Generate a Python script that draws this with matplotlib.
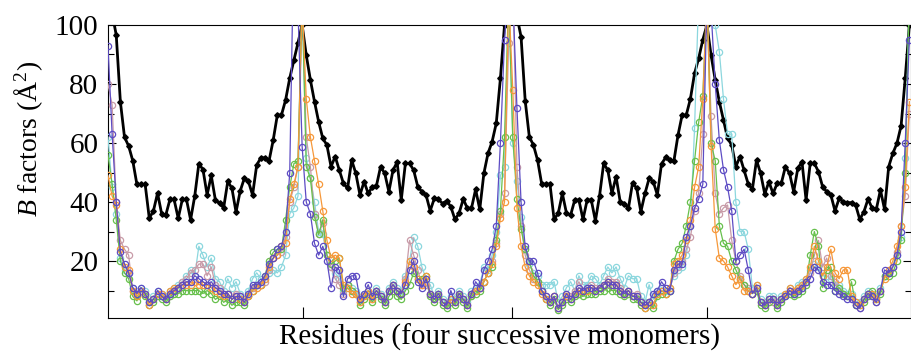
import matplotlib
matplotlib.use('Agg')
import matplotlib.pyplot as plt
import numpy as np

plt.rcParams['font.family'] = ['Liberation Serif', 'DejaVu Serif']
plt.rcParams['mathtext.fontset'] = 'custom'
plt.rcParams['mathtext.rm'] = 'Liberation Serif'
plt.rcParams['mathtext.it'] = 'Liberation Serif:italic'

# B factors per residue, four monomers laid end to end
black = [118, 104, 96.6, 74, 62, 59, 54, 46, 46, 46,
         34.5, 37, 43, 36, 35.6, 40.9, 40.9, 34.5, 40.9, 40.9,
         34, 42, 53, 51, 42.4, 49, 40.7, 39.6, 38, 47,
         44.7, 36.6, 43.7, 48, 47, 42.4, 52.5, 55, 55, 54,
         61, 69.5, 69.5, 74.6, 82, 88, 94, 100,
         89.8, 81.4, 74, 67.2, 61.6, 59.3, 52, 55.4, 50.8, 46.3,
         44.6, 54.2, 49.7, 42.4, 46.9, 42.9, 45.2, 45.6, 52, 49.7,
         43.5, 50.8, 53.5, 40.7, 53.1, 53.1, 50.8, 45.2, 43.5, 42.4,
         37, 41.2, 40.9, 39.5, 40.4, 38.4, 34.1, 36.2, 41, 37.9,
         37.9, 44.3, 37.5, 49.7, 56.5, 60.5, 66.7, 81.9, 100,
         115, 118, 103,
         96, 74.4, 62.1, 59.3, 54.2, 46.1, 46.1, 46.1, 34.1, 36.2,
         42.9, 36.2, 35.6, 40.7, 40.7, 34.1, 40.7, 40.7, 33.6, 42.1,
         53.1, 50.8, 42.9, 48.6, 40.1, 39.5, 37.9, 46.6, 44.6, 36.7,
         42.9, 48, 46.9, 42.4, 52.9, 55.1, 54.2, 53.9, 62.7, 69.5,
         69.5, 75, 83.6, 88.7, 95, 100,
         89.8, 81.4, 74, 67.8, 61.6, 59.3, 52, 55.4, 50.8, 46.1,
         44.3, 54.2, 49.7, 42.7, 46.9, 42.9, 46.3, 46.3, 52, 49.7,
         43.5, 51.4, 53.7, 40.7, 53.1, 53.1, 50.3, 45.2, 43.5, 42.4,
         37, 41.2, 40.1, 39.8, 39.8, 39, 34.1, 36.7, 41, 37.9,
         37.5, 44.1, 37.5, 52, 56.5, 59.9, 65.8, 81.9, 100]

purple = [93, 63, 40, 23, 19, 16, 11, 9, 11, 9,
          6, 7, 10, 8, 7, 9, 10, 11, 12, 13,
          13, 15, 14, 13, 12, 13, 11, 10, 9, 9,
          7, 8, 8, 6, 9, 12, 12, 13, 15, 19,
          21, 24, 25, 30, 50, 130, 105, 58.8, 40, 36,
          26, 22, 25, 20, 11, 18, 17, 8, 14, 15,
          15, 7, 9, 12, 8, 10, 8, 6, 10, 12,
          10, 9, 12, 17, 20, 13, 11, 14, 9, 7,
          9, 6, 5, 10, 6, 9, 7, 5, 9, 13,
          11, 17, 20, 24, 32, 60, 95, 115, 110, 72,
          40, 25, 20, 20, 16, 10, 8, 6, 8, 4,
          6, 9, 7, 9, 11, 10, 11, 11, 10, 11,
          12, 13, 12, 12, 10, 9, 10, 8, 8, 6,
          5, 6, 9, 10, 13, 11, 10, 17, 19, 19,
          28, 32, 38, 41, 46, 110, 105, 80, 61, 51,
          45, 37, 20, 22, 24, 17, 9, 11, 6, 5,
          7, 7, 5, 7, 8, 10, 9, 10, 11, 13,
          14, 18, 17, 13, 12, 12, 10, 9, 8, 7,
          7, 5, 4, 7, 9, 8, 6, 10, 17, 16,
          18, 22, 30, 60, 95]

orange = [49, 42, 39, 24, 18, 17, 10, 8, 10, 9,
          5, 7, 9, 9, 7, 10, 11, 11, 12, 12,
          12, 13, 12, 12, 12, 11, 10, 9, 8, 9,
          7, 8, 7, 6, 8, 10, 11, 12, 14, 18,
          21, 22, 25, 26, 41, 46, 52, 108, 75, 62,
          54, 46, 37, 27, 21, 22, 21, 12, 11, 9,
          9, 6, 8, 10, 7, 10, 8, 6, 10, 12,
          10, 9, 13, 20, 18, 14, 12, 15, 9, 7,
          9, 6, 5, 7, 6, 9, 7, 5, 9, 10,
          11, 13, 16, 19, 25, 34.5, 40, 110, 78, 38,
          25, 18, 15, 13, 12, 9, 7, 6, 8, 4,
          6, 8, 7, 9, 10, 10, 10, 11, 10, 11,
          12, 13, 12, 12, 10, 9, 10, 8, 8, 6,
          4, 6, 5, 9, 10, 9, 11, 19, 20, 22,
          27, 34, 45, 52, 75, 110, 59, 31, 21, 20,
          18, 15, 12, 14, 10, 10, 9, 12, 6, 5,
          7, 7, 5, 7, 9, 11, 10, 11, 12, 14,
          18, 25, 20, 15, 18, 24, 16, 14, 17, 17,
          8, 6, 5, 7, 9, 9, 7, 10, 14, 17,
          20, 25, 32, 45, 74]

green = [56, 46, 34, 20, 16, 14, 8, 6.5, 10, 8,
         5, 6, 8, 7, 6, 8, 9, 9, 10, 10,
         10, 10, 10, 9, 10, 9, 7, 8, 6, 7,
         5, 6, 6, 5, 8, 10, 12, 12, 15, 20,
         23, 24, 24, 34, 45, 53, 54, 110, 52, 48,
         35, 29, 34, 22, 19, 20, 21, 11, 12, 10,
         9, 5, 7, 9, 6, 9, 7, 5, 8, 10,
         8, 7, 10, 12, 16, 14, 14, 15, 8, 6,
         8, 5, 4, 6, 5, 8, 6, 4, 8, 9,
         10, 13, 16, 18, 27, 37, 62, 110, 62, 41,
         31, 24, 20, 15, 13, 10, 7, 5, 7, 3.5,
         5, 7, 6, 8, 9, 8, 9, 9, 9, 10,
         10, 11, 10, 10, 9, 8, 9, 7, 7, 5,
         4, 5, 4, 8, 9, 9, 10, 20, 24, 26,
         32, 40, 54, 67, 76, 110, 60, 54, 32, 26,
         25, 20, 17, 14, 12, 10, 9, 10, 5, 4,
         6, 7, 4, 6, 8, 9, 8, 9, 10, 12,
         22, 30, 25, 11, 17, 18, 10, 11, 9, 8,
         13, 5, 5, 6, 8, 10, 7, 9, 15, 15,
         16, 20, 27, 50, 110]

cyan = [62, 45, 36, 21, 17, 16, 11, 9, 11, 10,
        6, 8, 10, 9, 8, 10, 11, 12, 13, 15,
        17, 15, 25, 22, 18, 21, 14, 13, 10, 14,
        11, 13, 9, 7, 10, 14, 16, 14, 14, 16,
        17, 16, 18, 22, 36, 38, 42, 108, 55, 48,
        40, 30, 29, 22, 18, 16, 14, 10, 12, 11,
        10, 7, 9, 10, 8, 11, 9, 7, 11, 13,
        11, 10, 15, 20, 28, 25, 18, 14, 12, 8,
        10, 7, 6, 8, 7, 10, 8, 6, 10, 11,
        12, 18, 17, 22, 30, 49, 52, 110, 60, 47,
        35, 24, 19, 16, 15, 12, 12, 12, 13, 6,
        8, 11, 13, 10, 15, 12, 12, 15, 14, 12,
        15, 18, 16, 18, 14, 11, 15, 14, 14, 8,
        6, 12, 7, 10, 11, 10, 11, 15, 17, 18,
        22, 32, 65, 110, 115, 115, 110, 100, 91, 75,
        63, 63, 40, 30, 30, 24, 11, 12, 7, 6,
        8, 8, 6, 8, 9, 11, 10, 12, 13, 14,
        17, 19, 18, 15, 15, 14, 12, 12, 10, 9,
        9, 6, 6, 8, 10, 9, 8, 11, 15, 16,
        18, 22, 28, 55, 110]

pink = [80, 73, 40, 27, 24, 22, 10, 8, 10, 9,
        6, 7, 9, 8, 7, 9, 10, 11, 13, 14,
        16, 17, 19, 19, 15, 18, 12, 11, 8, 9,
        7, 9, 8, 6, 8, 11, 12, 12, 13, 17,
        21, 22, 23, 28, 40, 45, 52, 110, 62, 52,
        36, 29, 33, 22, 18, 14, 12, 9, 12, 10,
        9, 6, 8, 9, 7, 10, 8, 6, 10, 12,
        10, 9, 14, 27, 22, 17, 12, 12, 9, 7,
        8, 6, 5, 7, 6, 9, 7, 5, 8, 10,
        11, 13, 16, 20, 26, 36, 43, 94, 115, 52,
        32, 22, 17, 14, 13, 10, 8, 6, 8, 4,
        6, 9, 8, 10, 13, 10, 11, 12, 11, 11,
        12, 14, 13, 13, 11, 9, 10, 8, 9, 6,
        5, 6, 5, 9, 10, 9, 10, 16, 18, 20,
        24, 28, 37, 43, 63, 110, 69, 43, 36, 38,
        39, 27, 20, 15, 12, 11, 9, 11, 6, 5,
        7, 6, 5, 7, 8, 10, 9, 10, 11, 13,
        16, 22, 27, 18, 21, 15, 13, 10, 9, 8,
        7, 5, 4, 7, 9, 8, 6, 10, 15, 16,
        18, 23, 32, 42, 70]

# monomer boundary ticks on the residue axis
boundary_ticks = [47.2, 97.8, 145.0]

colored = [
    (cyan, '#8cd7de'),
    (pink, '#c89ba8'),
    (green, '#67c04c'),
    (orange, '#f6983a'),
    (purple, '#5d4cc4'),
]

residue = np.arange(len(black))

fig = plt.figure(figsize=(9.12, 3.54), dpi=100)
ax = fig.add_axes([0.1184, 0.1017, 0.8805, 0.8277])

ax.plot(residue, black, color='black', lw=2.0, marker='D', ms=2.8, zorder=2)
for vals, col in colored:
    ax.plot(residue, vals, color=col, lw=0.9, marker='o', ms=4.5,
            mfc='none', mec=col, mew=0.9, zorder=3)

ax.set_xlim(0, 194.4)
ax.set_ylim(0.7, 100)
ax.set_yticks([20, 40, 60, 80, 100])
ax.set_yticks([10, 30, 50, 70, 90], minor=True)
ax.set_xticks(boundary_ticks)
ax.set_xticklabels([])

ax.tick_params(axis='y', which='both', direction='in', left=True, right=True,
               labelsize=21, pad=7, width=0.8)
ax.tick_params(axis='y', which='major', length=6)
ax.tick_params(axis='y', which='minor', length=4)
ax.tick_params(axis='x', direction='in', length=8, width=0.8, top=False)
for sp in ax.spines.values():
    sp.set_linewidth(0.8)

ax.set_xlabel('Residues (four successive monomers)', fontsize=21)
ax.set_ylabel('$B$ factors (Å$^2$)', fontsize=20)
ax.xaxis.set_label_coords(0.4875, -0.02)
ax.yaxis.set_label_coords(-0.079, 0.611)

fig.savefig('out.png', dpi=100)
